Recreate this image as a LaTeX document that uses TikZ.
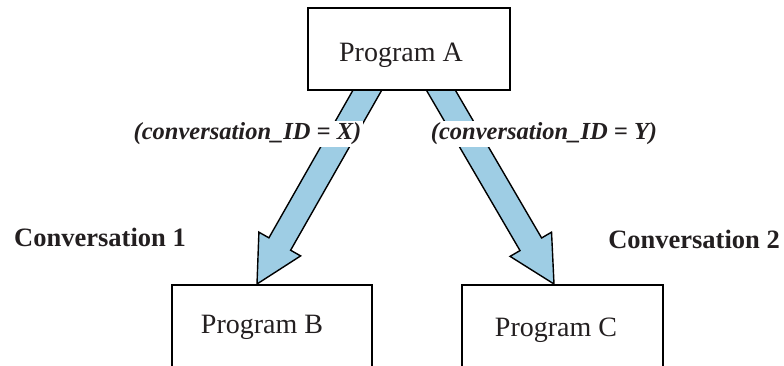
\documentclass[tikz,border=0pt]{standalone}
\usepackage{fontspec}
\setmainfont{Liberation Serif}
\usetikzlibrary{calc}
\definecolor{arrowblue}{RGB}{158,205,228}
\definecolor{txt}{RGB}{35,31,32}
\tikzset{
  progbox/.style={draw=black, line width=1.5pt, fill=white, inner sep=0pt, outer sep=0pt},
  progtext/.style={text=txt, font=\fontsize{28}{32}\selectfont, inner sep=0pt, anchor=base},
  idlabel/.style={text=txt, fill=white, font=\fontsize{24.5}{28}\selectfont\bfseries\itshape, inner sep=2pt},
  convlabel/.style={text=txt, font=\fontsize{26.5}{30}\selectfont\bfseries, inner sep=0pt, anchor=base},
  fatarrow/.style={draw=black, line width=1.4pt, fill=arrowblue, line join=miter}
}
% #1 start, #2 tip, #3 half shaft width, #4 half head width, #5 head length
\newcommand{\fatarrowdraw}[5]{%
  \path
    coordinate (fa-b) at ($(#2)!#5!(#1)$)
    coordinate (fa-s1) at ($(#1)!#3!90:(#2)$)
    coordinate (fa-s2) at ($(#1)!#3!-90:(#2)$)
    coordinate (fa-b1) at ($(fa-b)!#3!-90:(#2)$)
    coordinate (fa-b2) at ($(fa-b)!#3!90:(#2)$)
    coordinate (fa-h1) at ($(fa-b)!#4!-90:(#2)$)
    coordinate (fa-h2) at ($(fa-b)!#4!90:(#2)$);
  \draw[fatarrow] (fa-s1) -- (fa-b2) -- (fa-h2) -- (#2) -- (fa-h1) -- (fa-b1) -- (fa-s2) -- cycle;
}
\begin{document}
\begin{tikzpicture}[x=1pt,y=-1pt]
\useasboundingbox (0,0) rectangle (784,366);
% arrow anchors
\coordinate (s1) at (376,75);
\coordinate (t1) at (257,284);
\coordinate (s2) at (432,75);
\coordinate (t2) at (554,284);
\fatarrowdraw{s1}{t1}{12.5pt}{24pt}{46pt}
\fatarrowdraw{s2}{t2}{12.5pt}{24pt}{46pt}
% boxes
\node[progbox, minimum width=202pt, minimum height=82pt] (boxA) at (409,49) {};
\node[progbox, minimum width=200pt, minimum height=105pt] (boxB) at (272,337.5) {};
\node[progbox, minimum width=201pt, minimum height=105pt] (boxC) at (562.5,337.5) {};
\node[progtext] (pa) at (401,62) {Program A};
\node[progtext] (pb) at (262,333) {Program B};
\node[progtext] (pc) at (556,336) {Program C};
% labels
\node[idlabel] (lx) at (247.5,134) {(conversation\_ID = X)};
\node[idlabel] (ly) at (544,134) {(conversation\_ID = Y)};
\node[convlabel] (c1) at (100,246) {Conversation 1};
\node[convlabel] (c2) at (694,248) {Conversation 2};
\end{tikzpicture}
\end{document}
